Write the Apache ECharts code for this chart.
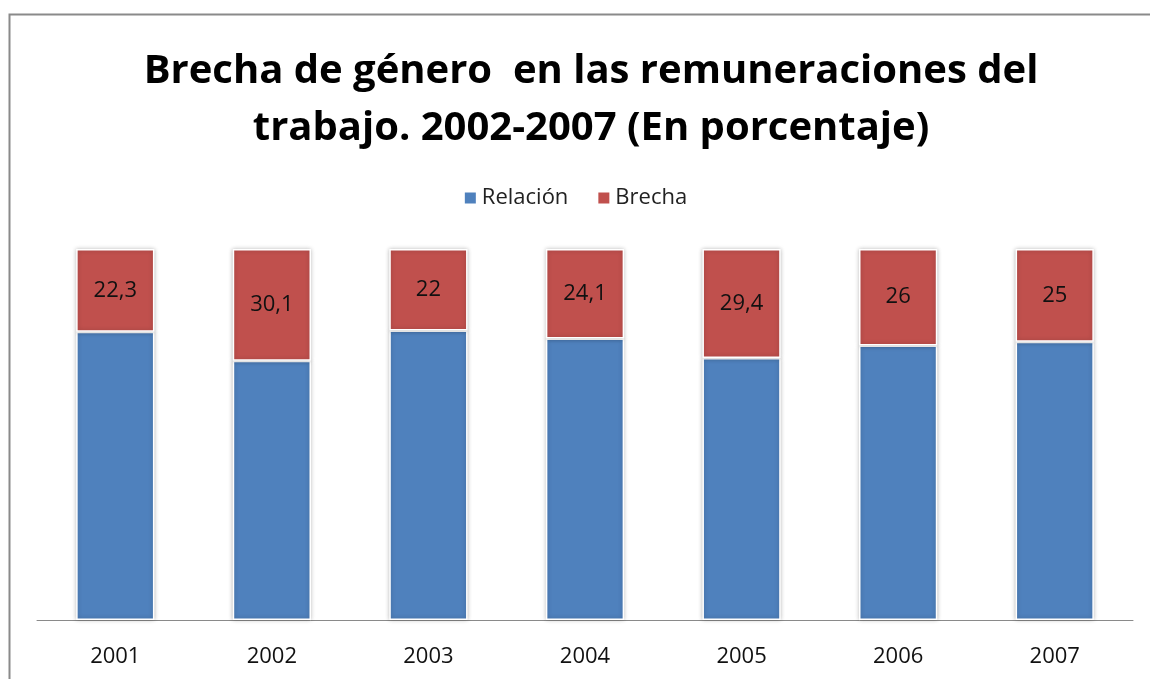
<!DOCTYPE html>
<html>
<head>
<meta charset="utf-8">
<script src="https://cdn.jsdelivr.net/npm/echarts@6/dist/echarts.min.js"></script>
<style>
    html, body { margin: 0; padding: 0; background: #fff; }
    #chart { width: 1150px; height: 679px; }
</style>
</head>
<body>
<div id="chart"></div>
<script>
    // datos
    const years = ['2001', '2002', '2003', '2004', '2005', '2006', '2007'];
    const brecha = [22.3, 30.1, 22, 24.1, 29.4, 26, 25];
    const relacion = [77.7, 69.9, 78, 75.9, 70.6, 74, 75];

    const fontName = '"Open Sans", "Noto Sans", sans-serif';

    let myChart = echarts.init(document.getElementById('chart'));
    let option = {
        backgroundColor: '#fff',
        animation: false,
        graphic: [{
            type: 'rect',
            shape: { x: 9.5, y: 14.5, width: 1200, height: 700 },
            style: { fill: 'none', stroke: '#8a8a8a', lineWidth: 2 }
        }],
        title: {
            text: 'Brecha de género  en las remuneraciones del\ntrabajo. 2002-2007 (En porcentaje)',
            left: 586,
            textAlign: 'center',
            top: 38,
            textStyle: {
                fontFamily: fontName,
                fontWeight: 'bold',
                fontSize: 40,
                lineHeight: 57,
                color: '#000'
            }
        },
        legend: {
            top: 182,
            left: 'center',
            itemWidth: 13,
            itemHeight: 13,
            itemGap: 28,
            icon: 'rect',
            textStyle: { fontFamily: fontName, fontSize: 22, color: '#222' },
            data: ['Relación', 'Brecha']
        },
        grid: { left: 37, right: 17, top: 249, bottom: 59 },
        xAxis: {
            type: 'category',
            data: years,
            axisLine: { lineStyle: { color: '#8a8a8a', width: 1 } },
            axisTick: { show: false },
            axisLabel: { fontFamily: fontName, fontSize: 22, color: '#111', margin: 26 }
        },
        yAxis: {
            type: 'value',
            min: 0,
            max: 100,
            show: false
        },
        series: [{
            name: 'Relación',
            type: 'bar',
            stack: 'total',
            barWidth: '50%',
            data: relacion,
            itemStyle: {
                color: '#4f81bd',
                borderColor: '#fff',
                borderWidth: 1.5,
                shadowColor: 'rgba(0,0,0,0.25)',
                shadowBlur: 4
            }
        }, {
            name: 'Brecha',
            type: 'bar',
            stack: 'total',
            data: brecha,
            itemStyle: {
                color: '#c0504d',
                borderColor: '#fff',
                borderWidth: 1.5,
                shadowColor: 'rgba(0,0,0,0.25)',
                shadowBlur: 4
            },
            label: {
                show: true,
                position: 'inside',
                fontFamily: fontName,
                fontSize: 22,
                color: '#111',
                formatter: function (p) { return String(p.value).replace('.', ','); }
            }
        }]
    };
    myChart.setOption(option);
</script>
</body>
</html>
